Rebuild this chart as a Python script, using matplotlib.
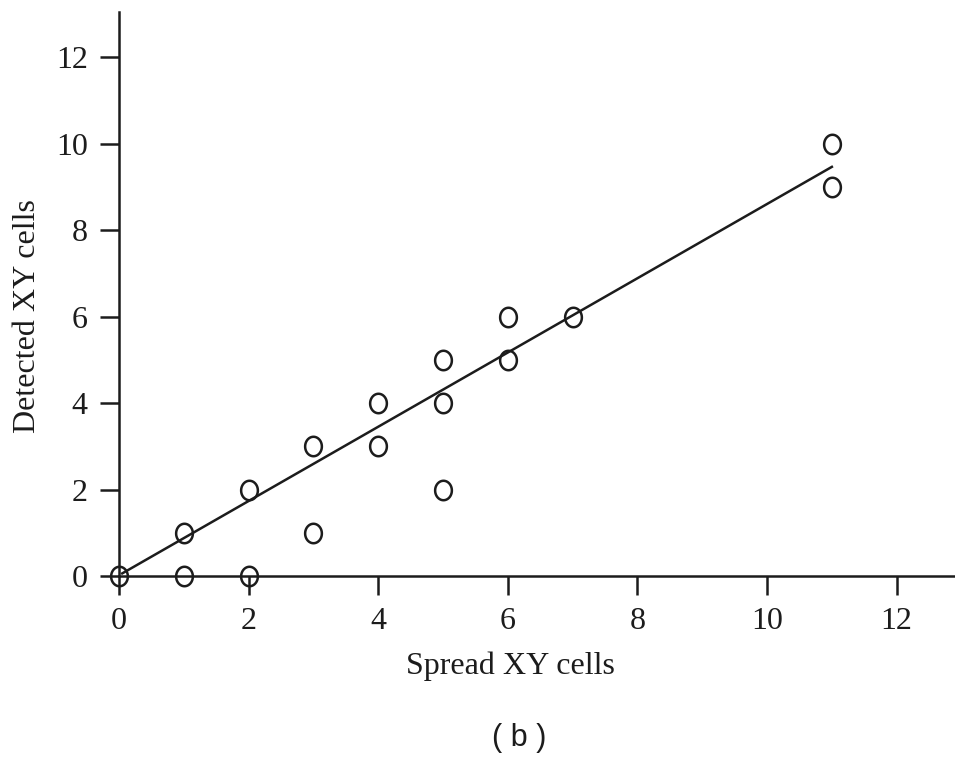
import matplotlib
matplotlib.use("Agg")
import matplotlib.pyplot as plt
import numpy as np
from matplotlib.path import Path

# data
spread_xy = [0, 1, 1, 2, 2, 3, 3, 4, 4, 5, 5, 5, 6, 6, 7, 11, 11]
detected_xy = [0, 1, 0, 2, 0, 3, 1, 4, 3, 5, 4, 2, 6, 5, 6, 10, 9]

fit_x = [0.05, 11.0]
fit_y = [0.06, 9.46]

ticks = [0, 2, 4, 6, 8, 10, 12]

ink = "#1c1c1c"
plt.rcParams["font.family"] = ["Liberation Serif", "DejaVu Serif"]

# slightly tall "O" shaped marker
t = np.linspace(0, 2 * np.pi, 60)
oval = Path(np.c_[0.86 * np.cos(t), np.sin(t)], closed=True)

fig = plt.figure(figsize=(9.55, 7.61), dpi=100)
ax = fig.add_axes([0.1246, 0.2431, 0.8754, 0.7411])

ax.plot(fit_x, fit_y, color=ink, lw=1.8, zorder=2)
ax.plot(spread_xy, detected_xy, linestyle="none", marker=oval, markersize=14,
        markerfacecolor="none", markeredgecolor=ink, markeredgewidth=1.8,
        zorder=4, clip_on=False)

ax.set_xlim(0, 12.9)
ax.set_ylim(0, 13.04)
ax.set_xticks(ticks)
ax.set_yticks(ticks)

for side in ["top", "right"]:
    ax.spines[side].set_visible(False)
for side in ["left", "bottom"]:
    ax.spines[side].set_color(ink)
    ax.spines[side].set_linewidth(1.8)
    ax.spines[side].set_clip_on(False)

ax.tick_params(direction="out", length=13.5, width=1.8, color=ink,
               labelcolor=ink, labelsize=23, pad=9)

ax.set_xlabel("Spread XY cells", fontsize=23, color=ink)
ax.set_ylabel("Detected XY cells", fontsize=23, color=ink)
ax.xaxis.set_label_coords(0.468, -0.133)
ax.yaxis.set_label_coords(-0.092, 0.461)

fig.text(0.5435, 0.030, "( b )", fontsize=22, color=ink,
         family=["Liberation Sans", "DejaVu Sans"], ha="center", va="center")

fig.savefig("out.png", dpi=100)
